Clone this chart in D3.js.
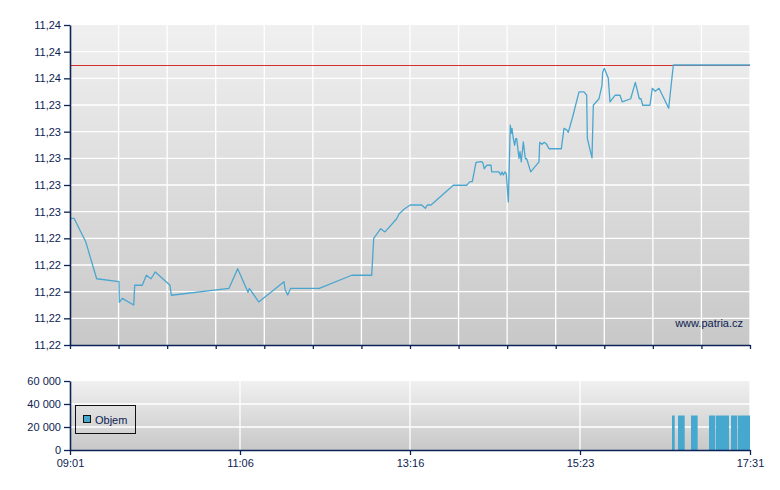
<!DOCTYPE html>
<html><head><meta charset="utf-8">
<script src="https://cdn.jsdelivr.net/npm/d3@7"></script>
<style>body{margin:0;background:#fff}svg{display:block}text{font-family:"Liberation Sans",Arial,sans-serif;font-size:11px;fill:#0c2352}</style>
</head><body><svg id="c" width="780" height="490"></svg>
<script>
// ---- data ----
const priceTimes = ["09:01:30","09:04:00","09:12:47","09:21:00","09:37:45","09:37:59","09:40:13","09:48:47","09:49:32","09:55:14","09:58:14","10:01:45","10:05:00","10:16:00","10:17:00","11:00:15","11:06:47","11:14:30","11:15:29","11:22:32","11:41:30","11:42:15","11:44:16","11:46:32","12:08:00","12:32:17","12:47:17","12:48:47","12:54:02","12:57:15","13:06:01","13:07:45","13:11:43","13:16:13","13:24:46","13:27:28","13:29:00","13:31:45","13:48:30","13:58:30","14:01:00","14:02:43","14:05:30","14:09:15","14:10:32","14:11:43","14:13:31","14:16:45","14:17:16","14:22:45","14:24:01","14:25:00","14:26:00","14:27:15","14:28:14","14:29:44","14:31:14","14:32:00","14:32:30","14:33:29","14:34:32","14:35:17","14:36:02","14:37:45","14:38:30","14:39:29","14:41:00","14:42:29","14:43:32","14:46:32","14:52:45","14:53:16","14:55:00","14:56:44","14:58:31","15:00:15","15:09:29","15:11:30","15:13:31","15:14:43","15:18:01","15:22:45","15:26:30","15:28:31","15:29:00","15:32:30","15:33:29","15:37:45","15:40:00","15:40:30","15:41:43","15:44:43","15:46:00","15:49:45","15:53:30","15:55:13","16:01:31","16:05:00","16:08:00","16:09:15","16:10:32","16:16:00","16:17:43","16:20:00","16:22:45","16:30:00","16:33:30","17:31:00"];
const priceValues = [11.2295,11.2295,11.22775,11.22497,11.22475,11.2232,11.2235,11.223,11.22448,11.22448,11.22523,11.22497,11.22548,11.22448,11.22373,11.22425,11.22572,11.22395,11.22425,11.22323,11.22475,11.22418,11.22375,11.22425,11.22425,11.22523,11.22523,11.228,11.22872,11.22848,11.22947,11.22983,11.2302,11.2305,11.2305,11.23025,11.2305,11.2305,11.23198,11.23198,11.23225,11.23225,11.2337,11.23375,11.2337,11.23322,11.23348,11.23348,11.23298,11.23298,11.23275,11.23298,11.23275,11.23298,11.23283,11.23073,11.23648,11.23588,11.23625,11.23547,11.23498,11.23547,11.23547,11.234,11.2345,11.23373,11.23523,11.23397,11.23397,11.23298,11.23373,11.2352,11.23505,11.2352,11.23505,11.23472,11.23472,11.23625,11.23613,11.23595,11.23712,11.23898,11.23898,11.23873,11.2355,11.23403,11.23798,11.23847,11.23948,11.24045,11.24075,11.24,11.23823,11.23873,11.23873,11.23823,11.23847,11.2397,11.23847,11.23847,11.23798,11.23798,11.23925,11.23903,11.23925,11.23775,11.241,11.241];
const prevClose = 11.241;
const volStart = ["16:32:30","16:37:00","16:46:45","17:00:15","17:05:17","17:16:45","17:21:47"];
const volEnd   = ["16:34:32","16:42:02","16:51:45","17:04:45","17:15:15","17:21:15","17:31:00"];
const volValues = [30000,30000,30000,30000,30000,30000,30000];
const priceTicks = [11.220,11.222,11.224,11.226,11.228,11.230,11.232,11.234,11.236,11.238,11.240,11.242,11.244];
const volTicks = [0,20000,40000,60000];
const timeLabels = ["09:01","11:06","13:16","15:23","17:31"];
const sessionStart = "09:01:00", sessionEnd = "17:31:00";
const mainGridCount = 14;
const legendLabel = "Objem";
const watermark = "www.patria.cz";

// ---- helpers ----
const toMin = s => { const p = s.split(":").map(Number); return p[0]*60 + p[1] + (p[2]||0)/60; };
const svg = d3.select("#c");
const L = 70, R = 750, mT = 25, mB = 345, vT = 381, vB = 450;
const axisCol = "#0b2356";
const x = d3.scaleLinear().domain([toMin(sessionStart), toMin(sessionEnd)]).range([L, R]);
const y = d3.scaleLinear().domain([priceTicks[0], priceTicks[priceTicks.length-1]]).range([mB, mT]);
const yv = d3.scaleLinear().domain([0, d3.max(volTicks)]).range([vB, vT]);
const loc = d3.formatLocale({decimal:",", thousands:" ", grouping:[3], currency:["",""]});
const fmtVol = loc.format(",");
const fmtPrice = v => (Math.floor(v*100 + 1e-6)/100).toFixed(2).replace(".", ",");

const defs = svg.append("defs");
const g = defs.append("linearGradient").attr("id","bg").attr("x1",0).attr("y1",0).attr("x2",0).attr("y2",1);
g.append("stop").attr("offset","0%").attr("stop-color","#f0f0f0");
g.append("stop").attr("offset","100%").attr("stop-color","#c8c8c8");

// ---- main panel ----
svg.append("rect").attr("x",L).attr("y",mT).attr("width",R-L).attr("height",mB-mT).attr("fill","url(#bg)");
const [d0, d1] = x.domain();
const mainGrid = d3.range(mainGridCount+1).map(i => d0 + i*(d1-d0)/mainGridCount);
svg.append("g").selectAll("line").data(mainGrid.slice(1)).join("line")
  .attr("x1",d=>x(d)).attr("x2",d=>x(d)).attr("y1",mT).attr("y2",mB)
  .attr("stroke","#fff").attr("stroke-width",1.3);
svg.append("g").selectAll("line").data(priceTicks.slice(1,-1)).join("line")
  .attr("x1",L).attr("x2",R).attr("y1",d=>y(d)).attr("y2",d=>y(d))
  .attr("stroke","#fff").attr("stroke-width",1.3);

svg.append("text").attr("x",743).attr("y",327).attr("text-anchor","end").text(watermark);

svg.append("line").attr("x1",L).attr("x2",R).attr("y1",Math.round(y(prevClose))+0.5).attr("y2",Math.round(y(prevClose))+0.5)
  .attr("stroke","#d62d2d").attr("stroke-width",1);

const pts = priceTimes.map((t,i)=>[toMin(t), priceValues[i]]);
svg.append("path").datum(pts)
  .attr("d", d3.line().x(d=>x(d[0])).y(d=>y(d[1])))
  .attr("fill","none").attr("stroke","#4ba6cf").attr("stroke-width",1.3).attr("stroke-linejoin","round");

const yAx = svg.append("g").attr("transform",`translate(${L},0)`)
  .call(d3.axisLeft(y).tickValues(priceTicks).tickFormat(fmtPrice).tickSize(6).tickSizeOuter(0).tickPadding(3));
const xAxMain = svg.append("g").attr("transform",`translate(0,${mB})`)
  .call(d3.axisBottom(x).tickValues(mainGrid).tickFormat("").tickSize(4).tickSizeOuter(0));

// ---- volume panel ----
svg.append("rect").attr("x",L).attr("y",vT).attr("width",R-L).attr("height",vB-vT).attr("fill","url(#bg)");
const volTickPos = d3.range(timeLabels.length).map(i => d0 + i*(d1-d0)/(timeLabels.length-1));
svg.append("g").selectAll("line").data(volTickPos.slice(1)).join("line")
  .attr("x1",d=>x(d)).attr("x2",d=>x(d)).attr("y1",vT).attr("y2",vB)
  .attr("stroke","#fff").attr("stroke-width",1.3);
svg.append("g").selectAll("line").data(volTicks.slice(1,-1)).join("line")
  .attr("x1",L).attr("x2",R).attr("y1",d=>yv(d)).attr("y2",d=>yv(d))
  .attr("stroke","#fff").attr("stroke-width",1.3);

svg.append("g").selectAll("rect").data(volValues).join("rect")
  .attr("x",(d,i)=>x(toMin(volStart[i])))
  .attr("width",(d,i)=>x(toMin(volEnd[i]))-x(toMin(volStart[i])))
  .attr("y",d=>yv(d)).attr("height",d=>vB-yv(d)).attr("fill","#46a7cf");

const yvAx = svg.append("g").attr("transform",`translate(${L},0)`)
  .call(d3.axisLeft(yv).tickValues(volTicks).tickFormat(fmtVol).tickSize(6).tickSizeOuter(0).tickPadding(3));
const xvAx = svg.append("g").attr("transform",`translate(0,${vB})`)
  .call(d3.axisBottom(x).tickValues(volTickPos).tickFormat((d,i)=>timeLabels[i]).tickSize(5).tickSizeOuter(0).tickPadding(4));

[yAx,xAxMain,yvAx,xvAx].forEach(a=>{
  a.selectAll(".domain").attr("stroke",axisCol).attr("stroke-width",1.6);
  a.selectAll(".tick line").attr("stroke",axisCol).attr("stroke-width",1.3);
  a.selectAll("text").attr("fill","#0c2352").style("font-size","11px").style("font-family","'Liberation Sans',Arial,sans-serif");
});

// legend
const lg = svg.append("g");
lg.append("rect").attr("x",75.5).attr("y",405.5).attr("width",60).attr("height",28).attr("fill","none").attr("stroke","#111").attr("stroke-width",1);
lg.append("rect").attr("x",83.5).attr("y",415.5).attr("width",7).attr("height",7).attr("fill","#46a7cf").attr("stroke","#111").attr("stroke-width",1);
lg.append("text").attr("x",95).attr("y",424).text(legendLabel);
</script></body></html>
